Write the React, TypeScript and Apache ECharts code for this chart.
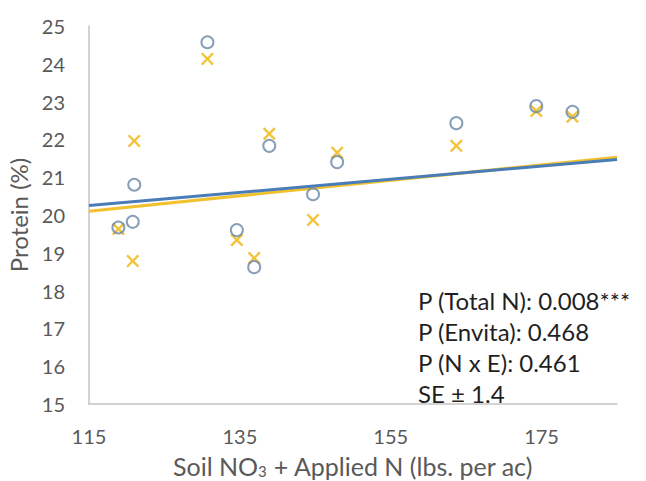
import React, { useEffect, useRef } from "react";
import * as echarts from "echarts";

// Soil NO3 + applied N (lbs per ac) for each plot
const nitrogenCheck = [118.9, 120.8, 121.0, 130.7, 134.6, 136.9, 138.9, 144.7, 147.9, 163.7, 174.3, 179.1];
const proteinCheck = [19.67, 19.82, 20.8, 24.57, 19.6, 18.62, 21.83, 20.55, 21.4, 22.43, 22.88, 22.73];

const nitrogenEnvita = [118.9, 121.0, 120.8, 130.7, 134.6, 136.9, 138.9, 144.7, 147.9, 163.7, 174.3, 179.1];
const proteinEnvita = [19.63, 21.96, 18.78, 24.13, 19.34, 18.86, 22.15, 19.87, 21.65, 21.83, 22.75, 22.6];

// Linear trend endpoints
const trendX = [115, 185];
const trendCheck = [20.25, 21.47];
const trendEnvita = [20.1, 21.53];

const xTicks = [115, 135, 155, 175];
const statsLines = ["P (Total N): 0.008***", "P (Envita): 0.468", "P (N x E): 0.461", "SE ± 1.4"];

const FONT = "Lato, 'Open Sans', sans-serif";
const BLUE = "#4a7db8";
const YELLOW = "#f2c12e";
const CROSS =
  "path://M0,1.3 L1.3,0 L5,3.7 L8.7,0 L10,1.3 L6.3,5 L10,8.7 L8.7,10 L5,6.3 L1.3,10 L0,8.7 L3.7,5 Z";

export default function App() {
  const ref = useRef<HTMLDivElement>(null);

  useEffect(() => {
    if (!ref.current) return;
    const chart = echarts.init(ref.current, undefined, { renderer: "svg" });

    const pairs = (xs: number[], ys: number[]) => xs.map((x, i) => [x, ys[i]]);

    chart.setOption({
      animation: false,
      backgroundColor: "#ffffff",
      grid: {
        left: 89,
        right: 29,
        top: 26,
        bottom: 77,
        containLabel: false,
        outerBoundsMode: "none",
      },
      xAxis: {
        type: "value",
        min: 115,
        max: 185,
        interval: 20,
        name: "{a|Soil NO}{s|3}{a| + Applied N (lbs. per ac)}",
        nameLocation: "middle",
        nameGap: 30,
        nameTextStyle: {
          rich: {
            a: { fontFamily: FONT, fontSize: 25, color: "#595959", lineHeight: 26, verticalAlign: "bottom" },
            s: { fontFamily: FONT, fontSize: 15, color: "#595959", lineHeight: 44, verticalAlign: "bottom" },
          },
        },
        axisLine: { show: true, lineStyle: { color: "#c4c4c4", width: 1.5 } },
        axisTick: { show: false },
        splitLine: { show: false },
        axisLabel: {
          margin: 22,
          fontFamily: FONT,
          fontSize: 20,
          color: "#595959",
          formatter: (v: number) => (xTicks.includes(v) ? String(v) : ""),
        },
      },
      yAxis: {
        type: "value",
        min: 15,
        max: 25,
        interval: 1,
        name: "Protein (%)",
        nameLocation: "middle",
        nameGap: 38,
        nameTextStyle: { fontFamily: FONT, fontSize: 24, color: "#595959" },
        axisLine: { show: true, lineStyle: { color: "#c4c4c4", width: 1.5 } },
        axisTick: { show: false },
        splitLine: { show: false },
        axisLabel: { margin: 24, fontFamily: FONT, fontSize: 20, color: "#595959" },
      },
      series: [
        {
          type: "line",
          data: pairs(trendX, trendEnvita),
          showSymbol: false,
          lineStyle: { color: YELLOW, width: 3 },
          z: 2,
        },
        {
          type: "line",
          data: pairs(trendX, trendCheck),
          showSymbol: false,
          lineStyle: { color: BLUE, width: 3 },
          z: 3,
        },
        {
          type: "scatter",
          data: pairs(nitrogenEnvita, proteinEnvita),
          symbol: CROSS,
          symbolSize: 13,
          itemStyle: { color: YELLOW, opacity: 0.95 },
          z: 4,
        },
        {
          type: "scatter",
          data: pairs(nitrogenCheck, proteinCheck),
          symbol: "circle",
          symbolSize: 12,
          itemStyle: { color: "rgba(255,255,255,0)", borderColor: "#6a87a6", borderWidth: 2 },
          z: 5,
        },
      ],
      graphic: statsLines.map((t, i) => ({
        type: "text",
        x: 418,
        y: 300 + i * 31,
        style: { text: t, fontFamily: FONT, fontSize: 24, fill: "#1f1f1f", verticalAlign: "middle" },
        z: 10,
      })),
    });

    return () => chart.dispose();
  }, []);

  return (
    <div
      ref={ref}
      style={{ position: "fixed", left: 0, top: 0, width: 646, height: 481 }}
    />
  );
}
